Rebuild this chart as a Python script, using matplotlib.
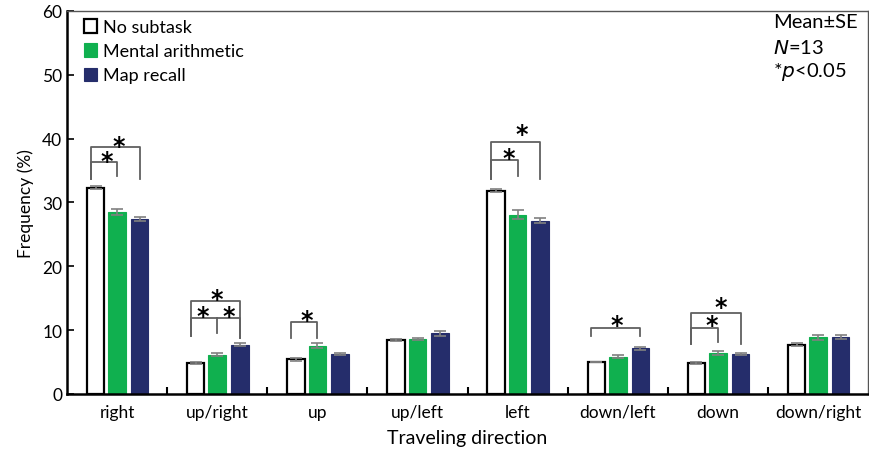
import numpy as np
import matplotlib
matplotlib.use("Agg")
import matplotlib.pyplot as plt
from matplotlib.ticker import FixedLocator

plt.rcParams['font.family'] = ['Lato', 'DejaVu Sans']

categories = ["right", "up/right", "up", "up/left", "left", "down/left", "down", "down/right"]
series_names = ["No subtask", "Mental arithmetic", "Map recall"]
no_subtask = [32.3, 4.86, 5.43, 8.41, 31.85, 5.0, 4.86, 7.73]
mental_arith = [28.5, 6.16, 7.52, 8.62, 28.1, 5.85, 6.47, 8.88]
map_recall = [27.4, 7.73, 6.27, 9.5, 27.1, 7.15, 6.2, 8.88]
se_no = [0.2, 0.1, 0.2, 0.2, 0.3, 0.05, 0.2, 0.3]
se_ma = [0.5, 0.3, 0.4, 0.2, 0.7, 0.3, 0.3, 0.4]
se_mr = [0.3, 0.2, 0.2, 0.4, 0.4, 0.2, 0.15, 0.3]

# significance brackets: (category, bar_a, bar_b, top, leg_a, leg_b)
brackets = [
    (0, 0, 1, 36.3, 33.7, 34.2),
    (0, 0, 2, 38.6, 33.7, 33.7),
    (1, 0, 2, 14.6, 9.0, 8.8),
    (1, 0, 2, 11.9, 9.0, 8.8),
    (2, 0, 1, 11.2, 8.8, 8.8),
    (4, 0, 1, 36.6, 33.6, 34.1),
    (4, 0, 2, 39.4, 33.6, 33.6),
    (5, 0, 2, 10.4, 9.0, 9.0),
    (6, 0, 1, 10.3, 7.8, 8.1),
    (6, 0, 2, 12.7, 7.8, 7.8),
]
extra_legs = [(1, 1, 11.9, 9.5)]
# stars: (category, x offset, y)
stars = [
    (0, -0.105, 36.5), (0, 0.015, 38.9),
    (1, -0.145, 12.2), (1, 0.11, 12.2), (1, -0.005, 14.9),
    (2, -0.105, 11.5),
    (4, -0.09, 37.0), (4, 0.045, 40.7),
    (5, -0.015, 10.8),
    (6, -0.06, 10.8), (6, 0.03, 13.6),
]

colors = ["white", "#10b04f", "#252d6b"]
edges = ["black", "#10b04f", "#252d6b"]
offsets = [-0.215, 0.0, 0.225]
width = 0.175

fig = plt.figure(figsize=(8.7, 4.56), dpi=100)
ax = fig.add_axes([0.077, 0.134, 0.921, 0.84])
x = np.arange(len(categories))
vals = [no_subtask, mental_arith, map_recall]
ses = [se_no, se_ma, se_mr]
for i in range(3):
    ax.bar(x + offsets[i], vals[i], width, color=colors[i], edgecolor=edges[i],
           linewidth=1.6 if i == 0 else 0.8, label=series_names[i], zorder=2)
    ax.errorbar(x + offsets[i], vals[i], yerr=ses[i], fmt='none', ecolor='#808080',
                elinewidth=1.2, capsize=4, capthick=1.2, zorder=3)

bc = '#606060'
for c, a, b, top, la, lb in brackets:
    xa = c + offsets[a] - 0.05
    xb = c + offsets[b]
    ax.plot([xa, xa, xb, xb], [la, top, top, lb], color=bc, lw=1.3, zorder=4)
for c, bi, top, bot in extra_legs:
    xm = c + offsets[bi]
    ax.plot([xm, xm], [top, bot], color=bc, lw=1.3, zorder=4)
for c, dx, y in stars:
    ax.text(c + dx, y, "*", ha='center', va='center', fontsize=17, fontweight='bold',
            family='DejaVu Sans', zorder=5)

ax.set_xlim(-0.5, 7.5)
ax.set_ylim(0, 60)
ax.set_yticks(np.arange(0, 61, 10))
ax.set_xticks(x)
ax.set_xticklabels(categories)
ax.xaxis.set_minor_locator(FixedLocator(np.arange(0.5, 7.5, 1)))
ax.tick_params(axis='x', which='major', length=0, labelsize=12.5, pad=7)
ax.tick_params(axis='x', which='minor', direction='in', length=5, width=1.5)
ax.tick_params(axis='y', direction='in', length=5, width=1.2, labelsize=12.5)
for s in ['left', 'bottom']:
    ax.spines[s].set_linewidth(1.8)
    ax.spines[s].set_color('black')
for s in ['top', 'right']:
    ax.spines[s].set_linewidth(1.0)
    ax.spines[s].set_color('#555555')
ax.set_xlabel("Traveling direction", fontsize=14, labelpad=7)
ax.set_ylabel("Frequency (%)", fontsize=12.5, labelpad=6)

leg = ax.legend(loc='upper left', frameon=False, fontsize=13, handlelength=0.75,
                handleheight=0.75, handletextpad=0.3, labelspacing=0.45,
                borderaxespad=0.0, bbox_to_anchor=(0.012, 0.997))

tx = 0.881
ax.text(tx, 0.971, "Mean\u00b1SE", transform=ax.transAxes, ha='left', va='center', fontsize=14.5)
ax.text(tx, 0.906, "$\\mathit{N}$=13", transform=ax.transAxes, ha='left', va='center', fontsize=14.5)
ax.text(tx, 0.843, "*$\\mathit{p}$<0.05", transform=ax.transAxes, ha='left', va='center', fontsize=14.5)

fig.savefig("out.png", dpi=100)
